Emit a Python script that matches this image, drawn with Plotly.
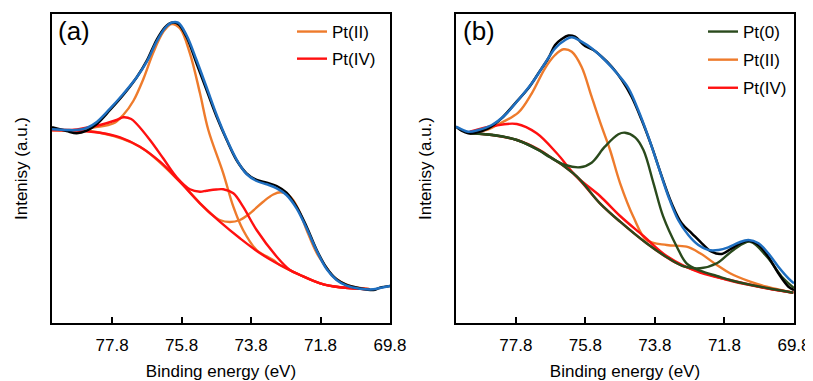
import plotly.graph_objects as go

# ---------------- Panel (a) data (binding energy eV, intensity a.u.) ----------------
a_raw_x = [79.53,79.11,78.82,78.53,78.24,77.86,77.48,77.09,76.80,76.52,76.28,76.09,75.90,75.66,75.37,75.08,74.79,74.50,74.22,73.93,73.64,73.35,73.06,72.78,72.49,72.20,71.91,71.62,71.34,71.05,70.67,70.28,70.09,69.80]
a_raw_y = [195.7,192.0,189.7,192.3,199.0,213.0,228.0,245.7,262.3,283.0,295.7,300.3,299.0,286.3,259.7,233.0,206.3,183.0,163.0,149.7,143.0,140.3,137.0,130.3,116.3,96.3,73.0,54.7,43.7,38.0,34.7,33.0,35.3,37.0]
a_fit_y = [193.7,193.0,193.0,195.0,201.0,214.3,229.0,245.7,261.3,281.3,294.7,300.3,300.3,288.0,263.0,235.7,208.0,183.7,163.7,149.0,142.0,138.7,134.7,128.0,114.7,94.7,72.3,53.7,43.0,37.3,34.3,33.7,35.0,37.0]

a_bg_x = [79.53,78.72,78.15,77.57,77.00,76.42,75.85,75.27,74.70,74.12,73.54,72.97,72.39,71.81,71.24,70.38]
a_bg_y = [193.0,192.3,190.3,185.7,176.3,161.3,141.3,119.7,101.3,84.7,69.7,58.0,48.0,39.7,35.7,33.7]

a_pt4_x = [79.53,78.90,78.63,78.15,77.67,77.47,77.25,77.09,76.71,76.33,75.94,75.56,75.27,75.08,74.80,74.60,74.31,74.03,73.64,73.06,72.68,72.39,71.81,71.24,70.38]
a_pt4_y = [193.0,193.3,194.7,198.0,203.0,205.7,204.0,199.0,183.0,164.7,145.7,133.7,131.3,132.3,133.5,133.7,129.7,116.3,93.0,66.3,53.0,48.0,39.7,35.7,33.7]

a_pt2a_x = [79.53,78.72,78.34,77.77,77.48,77.19,76.90,76.62,76.33,76.09,75.85,75.56,75.27,75.03,74.60,74.31,74.03,73.64,73.16,72.97,72.39,71.81,71.24,70.38]
a_pt2a_y = [193.0,192.5,195.5,199.5,208.0,222.0,244.0,270.0,291.0,299.0,294.7,269.7,229.7,193.0,149.7,116.3,93.0,73.0,63.0,58.0,48.0,39.7,35.7,33.7]

a_pt2b_x = [79.53,78.15,77.00,75.85,75.27,74.98,74.70,74.41,74.12,73.83,73.45,73.16,72.95,72.75,72.59,72.39,72.20,71.91,71.62,71.43,70.95,70.38]
a_pt2b_y = [193.0,190.3,176.3,141.3,119.7,110.0,103.0,101.0,103.0,109.7,121.3,128.5,130.7,128.5,123.0,110.0,93.0,70.0,55.0,46.3,37.0,33.7]

# ---------------- Panel (b) data ----------------
b_raw_x = [79.52,79.36,79.17,78.97,78.59,78.21,77.82,77.44,77.15,76.86,76.67,76.48,76.29,76.10,75.81,75.57,75.33,75.04,74.75,74.47,74.18,73.89,73.60,73.32,73.03,72.74,72.45,72.17,71.88,71.59,71.30,71.11,70.82,70.54,70.25,69.96,69.80]
b_raw_y = [196.3,192.3,189.7,190.3,194.7,204.7,219.7,234.7,249.7,265.0,278.0,284.0,287.5,286.3,277.0,273.0,266.3,256.3,243.0,226.3,203.0,176.3,146.3,119.7,99.7,89.7,79.7,71.3,69.0,74.7,80.3,82.3,78.0,66.3,49.7,36.3,33.0]

b_fit_x = [79.52,79.36,79.17,78.88,78.49,78.11,77.73,77.34,76.96,76.67,76.38,76.19,75.91,75.62,75.24,74.85,74.56,74.28,73.99,73.70,73.41,73.13,72.84,72.55,72.26,71.97,71.69,71.40,71.11,70.82,70.54,70.25,69.96,69.80]
b_fit_y = [196.3,193.7,191.3,193.0,198.0,208.0,223.0,239.7,259.7,274.7,283.0,285.7,281.3,274.7,263.0,248.0,234.7,213.0,186.3,156.3,126.3,103.0,88.0,78.0,73.0,73.0,75.7,80.3,83.0,79.7,69.7,56.3,44.7,39.7]

b_bg_x = [79.12,78.49,77.77,77.15,76.82,76.15,75.38,74.80,74.04,73.17,72.50,71.54,70.58,69.82]
b_bg_y = [189.7,188.0,183.0,173.7,166.3,149.7,119.7,101.3,79.7,59.7,51.3,41.3,34.7,30.3]

b_pt4_x = [79.12,78.45,77.77,77.20,76.62,76.05,75.38,74.80,74.13,73.46,72.50,71.64,70.58,69.82]
b_pt4_y = [191.3,197.0,199.0,189.7,169.7,146.3,127.0,107.0,87.0,67.0,50.3,43.0,34.7,30.3]

b_pt2_x = [79.12,78.59,78.25,77.73,77.34,76.96,76.67,76.43,76.19,75.91,75.62,75.33,75.09,74.80,74.42,74.04,73.46,72.89,72.50,72.02,71.64,71.06,70.58,69.82]
b_pt2_y = [189.7,193.7,199.7,210.3,229.7,254.7,268.0,273.7,271.3,256.3,226.3,196.3,173.0,139.7,106.3,83.0,78.0,76.3,69.7,58.0,49.7,41.3,36.3,30.3]

b_pt0a_x = [79.12,78.49,77.77,77.15,76.82,76.38,75.95,75.62,75.24,74.85,74.66,74.37,74.13,73.84,73.56,73.17,72.89,72.50,72.02,71.54,70.58,69.82]
b_pt0a_y = [189.7,188.0,183.0,173.0,165.7,158.0,155.7,160.3,176.3,188.7,190.3,185.7,173.0,139.7,106.3,76.3,59.7,52.3,47.0,42.0,35.0,30.3]

b_pt0b_x = [79.12,77.77,76.15,75.38,74.80,74.04,73.41,72.94,72.50,72.02,71.54,71.06,70.58,70.15,69.80]
b_pt0b_y = [189.7,183.0,149.7,119.7,101.3,79.7,64.7,56.3,54.7,59.7,73.0,81.3,66.3,46.3,35.0]

tick_vals = [77.8, 75.8, 73.8, 71.8, 69.8]
tick_text = ["77.8", "75.8", "73.8", "71.8", "69.8"]

C_BLACK = "#000000"
C_BLUE = "#1F6FC0"
C_ORANGE = "#EE7B2C"
C_RED = "#FF1010"
C_GREEN = "#2A4A1C"
FONT = "Liberation Sans, Arial, sans-serif"

fig = go.Figure()

def add(x, y, color, xa, ya, name=None, group=None, legend=None, show=False, rank=1000, width=2.4):
    fig.add_trace(go.Scatter(
        x=x, y=y, mode="lines", xaxis=xa, yaxis=ya,
        line=dict(color=color, width=width, shape="spline", smoothing=1.0),
        name=name, showlegend=show, legend=legend, legendrank=rank,
        legendgroup=group, hoverinfo="skip"))

# panel (a)
add(a_pt2a_x, a_pt2a_y, C_ORANGE, "x", "y", "Pt(II)", "a2", "legend", True, 1)
add(a_pt2b_x, a_pt2b_y, C_ORANGE, "x", "y", "Pt(II)", "a2", "legend", False, 1)
add(a_bg_x, a_bg_y, C_RED, "x", "y", "Pt(IV)", "a4", "legend", False, 2)
add(a_pt4_x, a_pt4_y, C_RED, "x", "y", "Pt(IV)", "a4", "legend", True, 2)
add(a_raw_x, a_raw_y, C_BLACK, "x", "y", width=2.5)
add(a_raw_x, a_fit_y, C_BLUE, "x", "y", width=2.5)

# panel (b)
add(b_pt2_x, b_pt2_y, C_ORANGE, "x2", "y2", "Pt(II)", "b2", "legend2", True, 2)
add(b_bg_x, b_bg_y, C_RED, "x2", "y2", "Pt(IV)", "b4", "legend2", False, 3)
add(b_pt4_x, b_pt4_y, C_RED, "x2", "y2", "Pt(IV)", "b4", "legend2", True, 3)
add(b_pt0a_x, b_pt0a_y, C_GREEN, "x2", "y2", "Pt(0)", "b0", "legend2", True, 1)
add(b_pt0b_x, b_pt0b_y, C_GREEN, "x2", "y2", "Pt(0)", "b0", "legend2", False, 1)
add(b_raw_x, b_raw_y, C_BLACK, "x2", "y2", width=2.5)
add(b_fit_x, b_fit_y, C_BLUE, "x2", "y2", width=2.5)

# the page body adds an 8px offset, so the figure is 8px smaller and positions are shifted
W, H = 805, 373
L, R, T, B = 44, 19, 6, 58
pw = W - L - R
ph = H - T - B

def xaxis(domain, rng):
    return dict(domain=domain, range=rng, tickmode="array", tickvals=tick_vals, ticktext=tick_text,
                ticks="inside", ticklen=6, tickwidth=1.5, tickcolor="black",
                showline=True, mirror=True, linecolor="black", linewidth=2,
                showgrid=False, zeroline=False, ticklabelstandoff=6, automargin=False,
                ticklabeloverflow="allow",
                tickfont=dict(size=17, color="black", family=FONT),
                title=dict(text="Binding energy (eV)", font=dict(size=17, color="black", family=FONT), standoff=11))

def yaxis(anchor):
    return dict(anchor=anchor, range=[0, 309], showticklabels=False, ticks="",
                showline=True, mirror=True, linecolor="black", linewidth=2,
                showgrid=False, zeroline=False, automargin=False,
                title=dict(text="Intenisy (a.u.)", font=dict(size=17, color="black", family=FONT), standoff=18))

da = [0, (382 - L) / pw]
db = [(448 - L) / pw, 1]

leg_common = dict(font=dict(size=17, color="black", family=FONT), bgcolor="rgba(0,0,0,0)",
                  traceorder="grouped", yanchor="top", xanchor="right",
                  itemwidth=30, borderwidth=0)

fig.update_layout(
    width=W, height=H, margin=dict(l=L, r=R, t=T, b=B, autoexpand=False),
    paper_bgcolor="white", plot_bgcolor="white",
    font=dict(family=FONT, color="black"),
    xaxis=dict(xaxis(da, [79.53, 69.8]), anchor="y"),
    yaxis=yaxis("x"),
    xaxis2=dict(xaxis(db, [79.52, 69.8]), anchor="y2"),
    yaxis2=dict(yaxis("x2"), domain=[0, 1]),
    legend=dict(leg_common, tracegroupgap=2, x=(373 - L) / pw, y=(315 - 6) / ph),
    legend2=dict(leg_common, tracegroupgap=3, x=(784 - L) / pw, y=(315 - 6) / ph),
    annotations=[
        dict(text="(a)", x=(48 - L) / pw, y=(315 - 23) / ph, xref="paper", yref="paper",
             xanchor="left", yanchor="middle", showarrow=False, font=dict(size=26, color="black", family=FONT)),
        dict(text="(b)", x=(453 - L) / pw, y=(315 - 23) / ph, xref="paper", yref="paper",
             xanchor="left", yanchor="middle", showarrow=False, font=dict(size=26, color="black", family=FONT)),
    ],
)

fig.write_html("out.html")
